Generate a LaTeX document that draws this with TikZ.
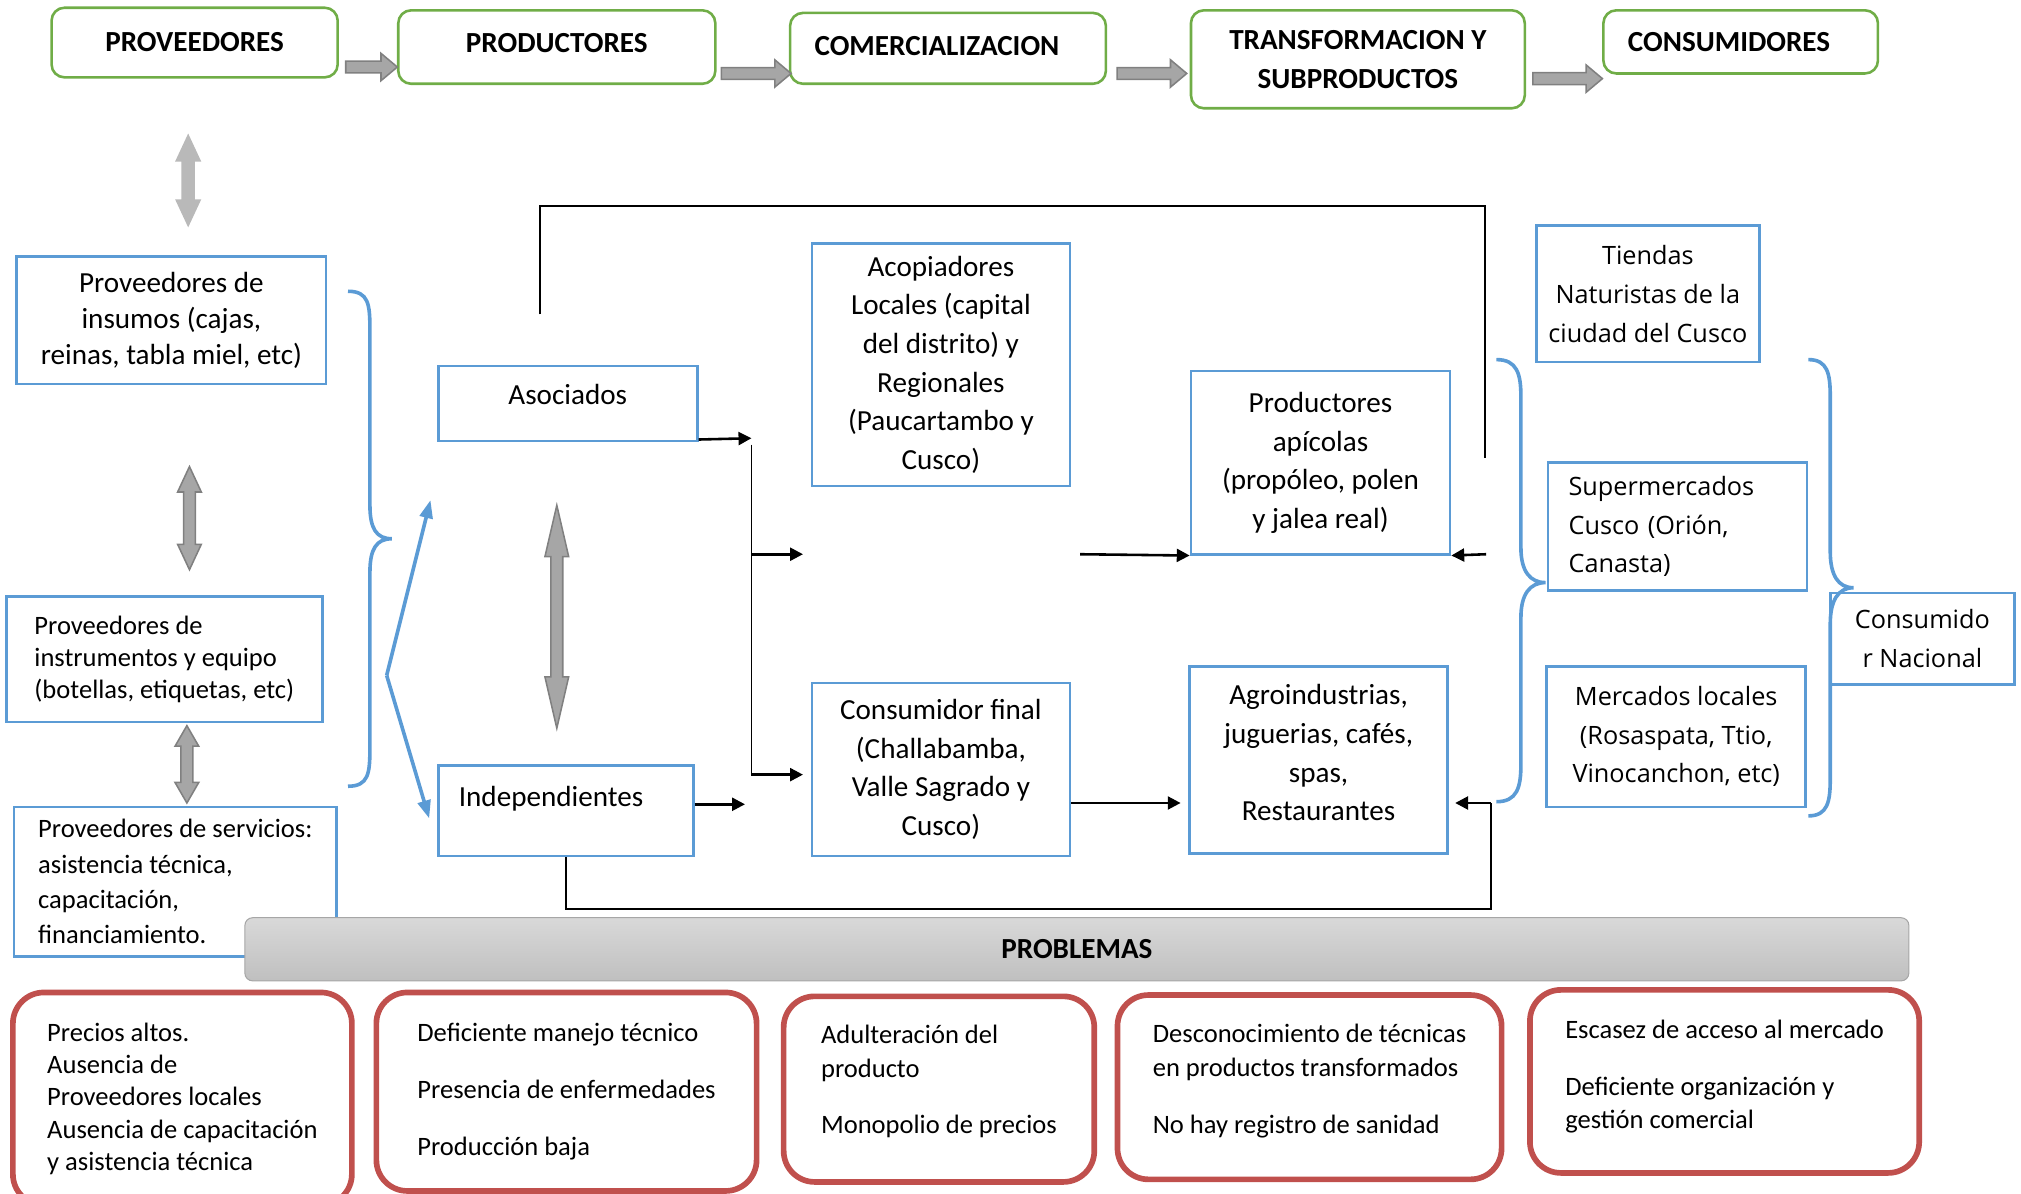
\documentclass[tikz,border=0pt]{standalone}
\usepackage{fontspec}
\setmainfont{Carlito}
\newfontfamily\opensans{Open Sans}
\usetikzlibrary{arrows.meta,shapes.arrows}

\definecolor{stagegreen}{RGB}{112,173,71}
\definecolor{boxblue}{RGB}{91,155,213}
\definecolor{probred}{RGB}{192,80,77}

\tikzset{
  stage/.style={draw=stagegreen, line width=1pt, rounded corners=5pt, align=center, font=\bfseries\fontsize{11.3}{15}\selectfont},
  actor/.style={draw=boxblue, line width=1pt, align=center, font=\fontsize{11.3}{15}\selectfont},
  market/.style={actor, font=\opensans\fontsize{9.8}{15}\selectfont},
  problem/.style={draw=probred, line width=2.2pt, rounded corners=12pt, align=left, font=\fontsize{10.3}{13}\selectfont},
  flow/.style={single arrow, draw=gray, fill=gray!70, line width=0.6pt, inner xsep=0pt, inner ysep=2pt, single arrow head extend=3pt, single arrow tip angle=80},
  link/.style={double arrow, draw=gray, fill=gray!70, line width=0.6pt, rotate=90, inner xsep=0pt, inner ysep=2pt, double arrow head extend=2.3pt, double arrow tip angle=50},
  grouping/.style={draw=boxblue, line width=1.4pt},
  conn/.style={line width=1pt, -{Triangle[length=5pt,width=5pt]}},
  wire/.style={line width=0.7pt}
}

\begin{document}
\begin{tikzpicture}[x=0.5pt, y=-0.5pt]
    \useasboundingbox (0,0) rectangle (1568,926);

    % Etapas de la cadena
    \node[stage, minimum width=111pt, minimum height=27pt] (prov) at (151,33) {PROVEEDORES};
    \node[stage, minimum width=123pt, minimum height=28.5pt, text depth=3pt] (prod) at (432,36.5) {PRODUCTORES};
    \node[stage, text width=103.5pt, inner xsep=9.5pt, align=left, minimum height=27.5pt, text depth=2pt] (comer) at (735.5,37.5) {COMERCIALIZACION};
    \node[stage, minimum width=129.5pt, minimum height=38pt] (transf) at (1053.5,46) {TRANSFORMACION Y\\SUBPRODUCTOS};
    \node[stage, text width=87.5pt, inner xsep=9.5pt, align=left, minimum height=24.5pt] (cons) at (1350.5,32.5) {CONSUMIDORES};

    \foreach \a/\b/\y/\l in {prov/prod/52/20pt, prod/comer/57/27pt, comer/transf/57/27pt, transf/cons/61/27pt} {
        \path (\a.east |- 0,\y) -- (\b.west |- 0,\y) node[flow, midway, minimum height=\l] (\a-\b) {};
    }

    % Proveedores
    \node[link, draw=gray!55, fill=gray!55, minimum height=35pt] (fade) at (146,140) {};
    \node[actor, font=\fontsize{11.3}{14}\selectfont, minimum width=120pt, minimum height=49.5pt] (insumos) at (133,248.5) {Proveedores de\\insumos (cajas,\\reinas, tabla miel, etc)};
    \node[link, minimum height=40pt] (l1) at (147,402) {};
    \node[actor, align=left, font=\fontsize{10.3}{12.5}\selectfont, minimum width=122.5pt, minimum height=48.5pt] (equipo) at (127.5,511.5) {Proveedores de\\instrumentos y equipo\\(botellas, etiquetas, etc)};
    \node[link, minimum height=30pt, double arrow tip angle=60] (l2) at (145,593) {};
    \node[actor, align=left, font=\fontsize{10.3}{13.7}\selectfont, minimum width=125pt, minimum height=58pt] (servicios) at (136,684) {Proveedores de servicios:\\asistencia técnica,\\capacitación,\\financiamiento.};

    \draw[grouping] (270,226) .. controls (286,226) and (287,236) .. (287,256) -- (287,392)
        .. controls (287,410) and (292,418) .. (304,418) .. controls (292,418) and (287,426) .. (287,444)
        -- (287,580) .. controls (287,600) and (286,610) .. (270,610);

    % Productores
    \node[actor, minimum width=100.5pt, minimum height=29pt, text depth=7pt] (asoc) at (440.5,313) {Asociados};
    \node[link, minimum height=86.5pt, double arrow tip angle=26] (l3) at (432,478.5) {};
    \node[actor, text width=83pt, align=left, inner xsep=8pt, minimum height=35pt, text depth=11pt] (indep) at (439,629) {Independientes};

    \coordinate (fork) at (300,524);
    \coordinate (toasoc) at (334,388);
    \coordinate (toindep) at (333,635);
    \draw[grouping, -{Triangle[length=7pt,width=5pt]}] (fork) -- (toasoc);
    \draw[grouping, -{Triangle[length=7pt,width=5pt]}] (fork) -- (toindep);

    % Comercializacion y transformacion
    \node[actor, minimum width=100pt, minimum height=94pt] (acop) at (730,283) {Acopiadores\\Locales (capital\\del distrito) y\\Regionales\\(Paucartambo y\\Cusco)};
    \node[actor, minimum width=100pt, minimum height=67pt] (final) at (730,597) {Consumidor final\\(Challabamba,\\Valle Sagrado y\\Cusco)};
    \node[actor, minimum width=100.5pt, minimum height=71pt] (apicola) at (1024.5,359) {Productores\\apícolas\\(propóleo, polen\\y jalea real)};
    \node[actor, minimum width=100pt, minimum height=72.5pt, text depth=5.5pt] (agro) at (1023,589.5) {Agroindustrias,\\juguerias, cafés,\\spas,\\Restaurantes};

    % Consumidores
    \node[market, minimum width=86.5pt, minimum height=53pt] (tiendas) at (1278.5,228) {Tiendas\\Naturistas de la\\ciudad del Cusco};
    \node[market, text width=84.5pt, align=left, inner xsep=8pt, minimum height=49.5pt] (super) at (1301.5,408.5) {Supermercados\\Cusco (Orión,\\Canasta)};
    \node[market, minimum width=100.5pt, minimum height=54.5pt] (mercados) at (1300.5,571.5) {Mercados locales\\(Rosaspata, Ttio,\\Vinocanchon, etc)};
    \node[market, minimum width=71.5pt, minimum height=35.5pt] (nacional) at (1491.5,495.5) {Consumido\\r Nacional};

    \draw[grouping] (1161,279) .. controls (1177,279) and (1180,290) .. (1180,308) -- (1180,425)
        .. controls (1180,443) and (1187,452) .. (1199,452) .. controls (1187,452) and (1180,461) .. (1180,479)
        -- (1180,593) .. controls (1180,611) and (1177,622) .. (1161,622);
    \draw[grouping] (1403,279) .. controls (1418,279) and (1420,290) .. (1420,308) -- (1420,428)
        .. controls (1420,446) and (1426,456) .. (1438,456) .. controls (1426,456) and (1420,466) .. (1420,484)
        -- (1420,604) .. controls (1420,622) and (1418,633) .. (1403,633);

    % Flujos
    \coordinate (loopstart) at (419,244);
    \coordinate (loopend) at (1152,355);
    \coordinate (split) at (583,340);
    \coordinate (splitlow) at (583,601);
    \coordinate (midarrow) at (623,430);
    \coordinate (tofinal) at (623,601);
    \coordinate (fromacop) at (838,430);
    \coordinate (backtop) at (1153,430);
    \coordinate (backlow) at (1157,623);
    \coordinate (indeptip) at (578,624);

    \draw[wire] (loopstart) |- (loopend |- 0,160) -- (loopend);
    \draw[conn] ([yshift=1pt]asoc.south east) -- (split);
    \draw[wire] ([yshift=-2.5pt]split) -- (splitlow);
    \draw[conn] (split |- midarrow) -- (midarrow);
    \draw[conn] (splitlow) -- (tofinal);
    \draw[conn] (fromacop) -- (apicola.south west);
    \draw[conn] (backtop) -- (apicola.south east);
    \draw[conn] ([yshift=2.5pt]indep.east) -- (indeptip);
    \draw[conn, shorten >=3pt] (final.east |- backlow) -- (agro.west |- backlow);
    \draw[conn, shorten >=2.5pt] (backlow) -- (agro.east |- backlow);
    \draw[wire, line width=0.8pt] (indep.south) |- (backlow |- 0,705) -- (backlow);

    % Problemas
    \node[draw=gray!70, top color=gray!30, bottom color=gray!50, rounded corners=3pt, minimum width=645.5pt, minimum height=24.5pt, font=\bfseries\fontsize{11.3}{14}\selectfont] (problemas) at (835.5,736.5) {PROBLEMAS};

    \node[problem, font=\fontsize{10.3}{12.5}\selectfont, minimum width=131.5pt, minimum height=82.5pt] (p1) at (141.5,852.5) {Precios altos.\\Ausencia de\\Proveedores locales\\Ausencia de capacitación\\y asistencia técnica};
    \node[problem, minimum width=147.5pt, minimum height=77pt] (p2) at (439.5,847) {Deficiente manejo técnico\\[9pt]Presencia de enfermedades\\[9pt]Producción baja};
    \node[problem, minimum width=120.5pt, minimum height=72pt, text depth=7.5pt] (p3) at (728.5,845) {Adulteración del\\producto\\[9pt]Monopolio de precios};
    \node[problem, minimum width=149pt, minimum height=71.5pt, text depth=6.5pt] (p4) at (1016,843.5) {Desconocimiento de técnicas\\en productos transformados\\[9pt]No hay registro de sanidad};
    \node[problem, minimum width=151pt, minimum height=71pt, text depth=5.5pt] (p5) at (1338,839) {Escasez de acceso al mercado\\[9pt]Deficiente organización y\\gestión comercial};
\end{tikzpicture}
\end{document}
